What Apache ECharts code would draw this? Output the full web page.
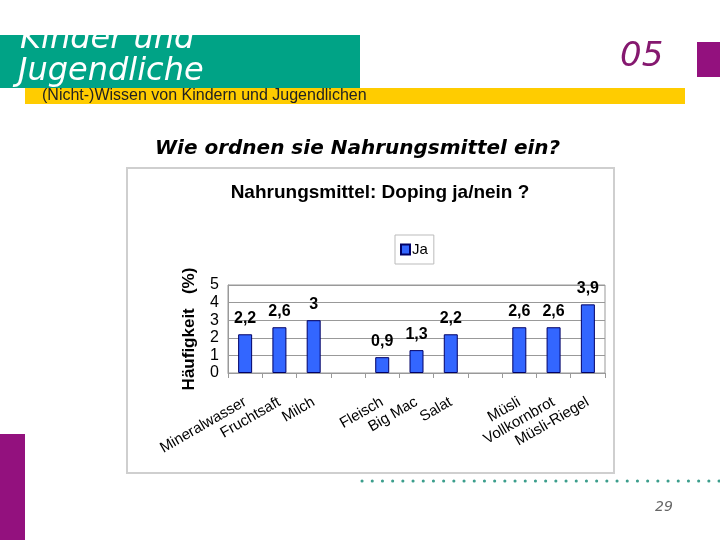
<!DOCTYPE html>
<html>
<head>
<meta charset="utf-8">
<script src="https://cdn.jsdelivr.net/npm/echarts@6/dist/echarts.min.js"></script>
<style>
html,body{margin:0;padding:0;background:#fff;}
#c{width:720px;height:540px;}
</style>
</head>
<body>
<div id="c"></div>
<script>
var categories = ['Mineralwasser', 'Fruchtsaft', 'Milch', '', 'Fleisch', 'Big Mac', 'Salat', '', 'Müsli', 'Vollkornbrot', 'Müsli-Riegel'];
var jaValues = [2.2, 2.6, 3, null, 0.9, 1.3, 2.2, null, 2.6, 2.6, 3.9];
var yTicks = [0, 1, 2, 3, 4, 5];

var chart = echarts.init(document.getElementById('c'), null, {renderer: 'canvas'});
var FONT = 'Liberation Sans, Arial, sans-serif';

var option = {
  backgroundColor: '#fff',
  animation: false,
  title: {
    text: 'Nahrungsmittel: Doping ja/nein ?',
    left: 375, top: 178, textAlign: 'center',
    textStyle: {fontFamily: FONT, fontWeight: 'bold', fontSize: 19, color: '#000'}
  },
  legend: {
    left: 395, top: 235,
    data: ['Ja'],
    icon: 'rect',
    itemWidth: 9, itemHeight: 10, itemGap: 4,
    padding: [7, 6, 7, 5],
    borderColor: '#bbb', borderWidth: 1,
    textStyle: {fontFamily: FONT, fontSize: 15, color: '#000', padding: [0, 0, 0, -3]}
  },
  grid: {
    left: 228, right: 115, top: 285, bottom: 167,
    show: true, borderColor: '#999', borderWidth: 1, backgroundColor: 'transparent'
  },
  xAxis: {
    type: 'category',
    data: categories,
    axisLine: {lineStyle: {color: '#999'}},
    axisTick: {show: true, length: 5, lineStyle: {color: '#999'}},
    axisLabel: {
      interval: 0, rotate: 30, margin: 28,
      fontFamily: FONT, fontSize: 15, color: '#000'
    }
  },
  yAxis: {
    type: 'value', min: 0, max: 5, interval: 1,
    name: 'Häufigkeit   (%)',
    nameLocation: 'middle', nameRotate: 90, nameGap: 30,
    nameTextStyle: {fontFamily: FONT, fontWeight: 'bold', fontSize: 17, color: '#000'},
    axisLine: {show: true, lineStyle: {color: '#999'}},
    axisTick: {show: false},
    splitLine: {lineStyle: {color: '#999'}},
    axisLabel: {
      margin: 9, fontFamily: FONT, fontSize: 16, color: '#000',
      formatter: function (v) { return yTicks.indexOf(v) >= 0 ? String(v) : ''; }
    }
  },
  series: [{
    name: 'Ja',
    type: 'bar',
    data: jaValues,
    barWidth: 14,
    itemStyle: {color: '#3366FF', borderColor: '#000066', borderWidth: 1},
    label: {
      show: true, position: 'top', distance: 8,
      fontFamily: FONT, fontWeight: 'bold', fontSize: 16, color: '#000',
      formatter: function (p) { return String(p.value).replace('.', ','); }
    }
  }],
  graphic: [
    {type: 'rect', z: -10, shape: {x: 127, y: 168, width: 487, height: 305},
     style: {fill: '#fff', stroke: '#cfcfcf', lineWidth: 2}},
    {type: 'rect', z: 1, shape: {x: 0, y: 35, width: 360, height: 53}, style: {fill: '#00A386'}},
    {type: 'text', z: 2, left: 20, top: 24,
     style: {text: 'Kinder und', fill: '#fff', font: 'italic 32px "DejaVu Sans"'}},
    {type: 'text', z: 2, left: 18, top: 56,
     style: {text: 'Jugendliche', fill: '#fff', font: 'italic 32px "DejaVu Sans"'}},
    {type: 'rect', z: 3, shape: {x: 0, y: 0, width: 360, height: 35}, style: {fill: '#fff'}},
    {type: 'rect', z: 1, shape: {x: 25, y: 88, width: 660, height: 16}, style: {fill: '#FFCC00'}},
    {type: 'text', z: 4, left: 42, top: 88,
     style: {text: '(Nicht-)Wissen von Kindern und Jugendlichen', fill: '#222', font: '16px "Liberation Sans"'}},
    {type: 'text', z: 2, left: 620, top: 40,
     style: {text: '05', fill: '#85186F', font: 'italic 34px "DejaVu Sans"'}},
    {type: 'rect', z: 1, shape: {x: 697, y: 42, width: 23, height: 35}, style: {fill: '#93117E'}},
    {type: 'rect', z: 1, shape: {x: 0, y: 434, width: 25, height: 106}, style: {fill: '#93117E'}},
    {type: 'text', z: 2, left: 155, top: 139,
     style: {text: 'Wie ordnen sie Nahrungsmittel ein?', fill: '#000', font: 'italic bold 20px "DejaVu Sans"'}},
    {type: 'line', z: 1, shape: {x1: 362, y1: 481, x2: 720, y2: 481},
     style: {stroke: '#3B9E8C', lineWidth: 3, lineDash: [0.1, 10.1], lineCap: 'round'}},
    {type: 'text', z: 1, left: 655, top: 500,
     style: {text: '29', fill: '#666', font: 'italic 300 14px "DejaVu Sans"'}}
  ]
};
chart.setOption(option);
</script>
</body>
</html>
